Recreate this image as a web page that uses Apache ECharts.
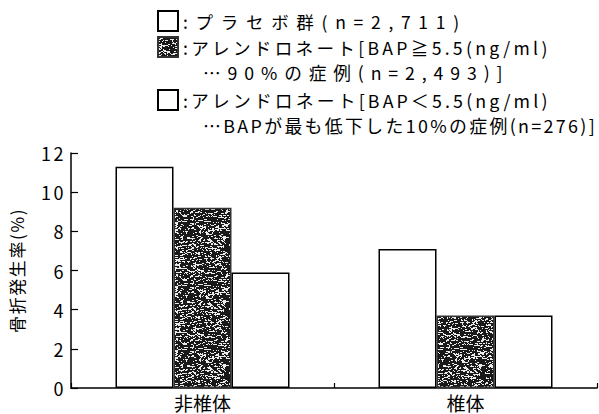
<!DOCTYPE html>
<html lang="ja">
<head>
<meta charset="utf-8">
<script src="https://cdn.jsdelivr.net/npm/echarts@6/dist/echarts.min.js"></script>
<style>
  html, body { margin: 0; padding: 0; background: #fff; }
  #chart { width: 599px; height: 414px; }
  /* printed-style tracking for the axis lettering */
  #chart text[style*="18px"] { letter-spacing: 2.5px; }
  #chart text[style*="17px"] { letter-spacing: 1.6px; }
</style>
<style id="legend-tracking"></style>
</head>
<body>
<div id="chart"></div>
<script>
// Fracture sites on the category axis
const categories = ['非椎体', '椎体'];

// Fracture incidence (%) per group
const placebo = [11.3, 7.1];
const alendronateHighBAP = [9.2, 3.7];
const alendronateLowBAP = [5.9, 3.7];

// Legend wording: first line beside the swatch, continuation line below it
const legendHeads = [
  'プラセボ群(n=2,711)',
  'アレンドロネート[BAP≧5.5(ng/ml)',
  'アレンドロネート[BAP＜5.5(ng/ml)'
];
const legendTails = [
  '',
  '…90%の症例(n=2,493)]',
  '⋯BAPが最も低下した10%の症例(n=276)]'
];

const yTicks = { min: 0, max: 12, interval: 2 };
const yAxisName = '骨折発生率(%)';

// ---- layout / style settings ----
const FONT = "'Noto Sans CJK JP', sans-serif";
const legendLeft = 157;
const legendTops = [10, 36, 89];
const headTextX = legendLeft + 20 + 5;
const tailTextX = 203;
const tailRows = [0, 72, 125];
// each legend line gets its own size so its tracking can be set to fill its measure
const headSizes = [17.5, 17.6, 17.8];
const tailSizes = [0, 17.7, 17.9];
const headRight = [462, 548, 548];
const tailRight = [0, 506, 597];

// Compute tracking so that each legend line spans its measure
(function setLegendTracking() {
  const ctx = document.createElement('canvas').getContext('2d');
  let css = '';
  const add = (text, size, x0, x1) => {
    ctx.font = size + 'px ' + FONT;
    const w = ctx.measureText(text).width;
    const n = Array.from(text).length;
    const s = Math.max(0, (x1 - x0 - w) / (n - 0.5));
    css += '#chart text[style*="' + size + 'px"]{letter-spacing:' + s.toFixed(2) + 'px}\n';
  };
  legendHeads.forEach((h, i) => add(':' + h, headSizes[i], headTextX, headRight[i]));
  legendTails.forEach((t, i) => { if (t) add(t, tailSizes[i], tailTextX, tailRight[i]); });
  document.getElementById('legend-tracking').textContent = css;
})();

// Speckled dark screen-tone used for the middle group
function makeScreenTone() {
  const size = 64;
  const c = document.createElement('canvas');
  c.width = size; c.height = size;
  const ctx = c.getContext('2d');
  const img = ctx.createImageData(size, size);
  let s = 4242;
  const next = () => { s = (s * 1103515245 + 12345) & 0x7fffffff; return s / 0x7fffffff; };
  for (let y = 0; y < size; y++) {
    let prev = 30;
    for (let x = 0; x < size; x++) {
      let v;
      if (x > 0 && next() < 0.35) v = prev;
      else v = next() < 0.72 ? 25 : 235;
      prev = v;
      const i = (y * size + x) * 4;
      img.data[i] = v; img.data[i + 1] = v; img.data[i + 2] = v; img.data[i + 3] = 255;
    }
  }
  ctx.putImageData(img, 0, 0);
  return c;
}
const tone = { image: makeScreenTone(), repeat: 'repeat' };

const chart = echarts.init(document.getElementById('chart'), null, { renderer: 'svg' });

const seriesData = [placebo, alendronateHighBAP, alendronateLowBAP];
const fills = ['#ffffff', tone, '#ffffff'];
const borders = ['#000', '#333', '#000'];

chart.setOption({
  animation: false,
  backgroundColor: '#ffffff',
  grid: { left: 67, right: 2, top: 153, bottom: 26 },
  legend: legendHeads.map((head, i) => ({
    data: [head + legendTails[i]],
    left: legendLeft,
    top: legendTops[i],
    padding: 0,
    itemWidth: 20,
    itemHeight: 20,
    selectedMode: false,
    icon: 'rect',
    formatter: () => ':' + head,
    textStyle: { fontSize: headSizes[i], fontFamily: FONT, color: '#000' }
  })),
  graphic: legendTails.map((tail, i) => tail ? {
    type: 'text',
    x: tailTextX,
    y: tailRows[i],
    style: { text: tail, fontSize: tailSizes[i], fontFamily: FONT, fill: '#000', verticalAlign: 'middle' }
  } : null).filter(Boolean),
  xAxis: {
    type: 'category',
    data: categories,
    axisLine: { lineStyle: { color: '#000', width: 1.5 } },
    axisTick: { show: true, inside: true, length: 5, lineStyle: { color: '#000', width: 1.2 } },
    axisLabel: { color: '#000', fontSize: 19, lineHeight: 20, fontFamily: FONT, margin: 4 },
    splitLine: { show: false }
  },
  yAxis: {
    type: 'value',
    min: yTicks.min,
    max: yTicks.max,
    interval: yTicks.interval,
    name: yAxisName,
    nameLocation: 'middle',
    nameRotate: 90,
    nameGap: 46,
    nameTextStyle: { color: '#000', fontSize: 17, fontFamily: FONT },
    axisLine: { show: true, lineStyle: { color: '#000', width: 1.5 } },
    axisTick: { show: true, inside: true, length: 7, lineStyle: { color: '#000', width: 1.2 } },
    axisLabel: { color: '#000', fontSize: 18, fontFamily: FONT, margin: 5 },
    splitLine: { show: false }
  },
  series: seriesData.map((data, i) => ({
    type: 'bar',
    name: legendHeads[i] + legendTails[i],
    data: data,
    barWidth: 58,
    barGap: '0%',
    itemStyle: { color: fills[i], borderColor: borders[i], borderWidth: 1.5 }
  }))
});
</script>
</body>
</html>
